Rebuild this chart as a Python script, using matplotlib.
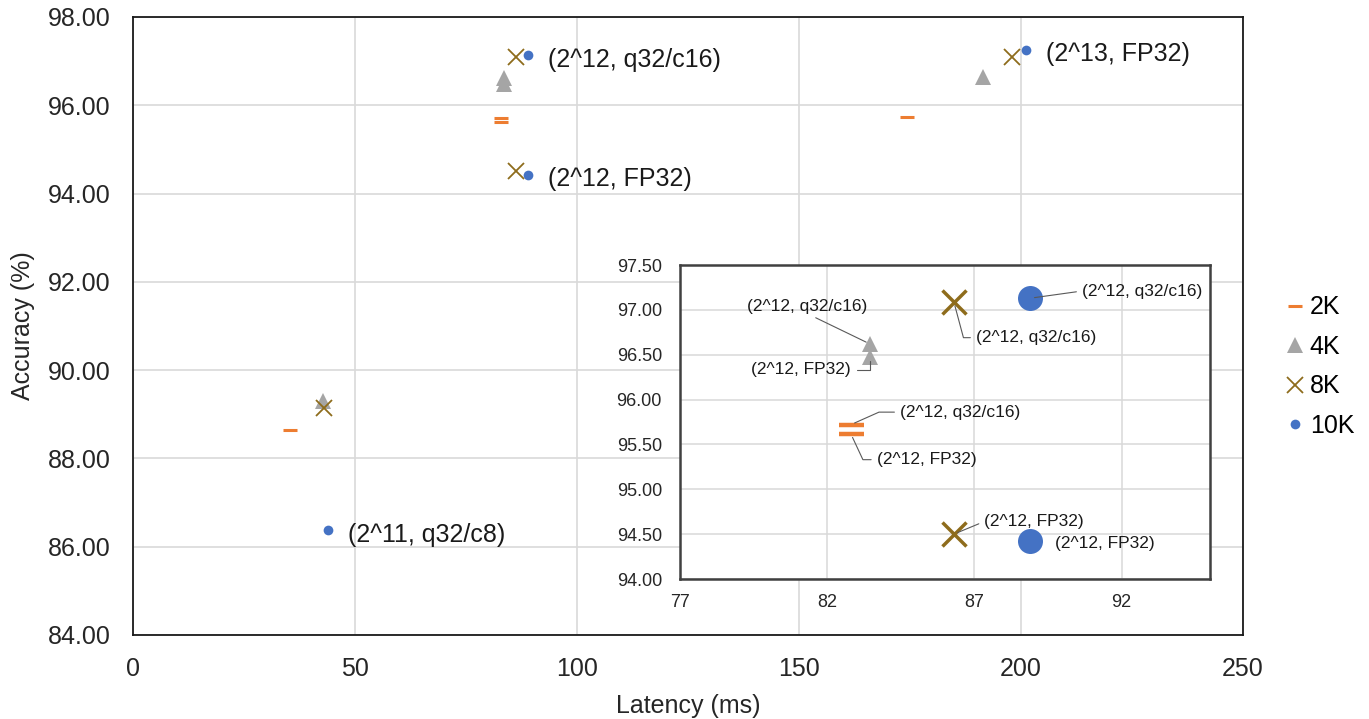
import numpy as np
import matplotlib.pyplot as plt

plt.rcParams['font.family'] = ['Liberation Sans', 'DejaVu Sans']

# latency (ms) / accuracy (%) per dictionary size
lat_2k = [35.3, 82.8, 82.8, 174.3]
acc_2k = [88.65, 95.72, 95.62, 95.73]
lat_4k = [42.8, 83.45, 83.45, 191.4]
acc_4k = [89.30, 96.62, 96.48, 96.63]
lat_8k = [43.0, 86.3, 86.3, 198.0]
acc_8k = [89.14, 97.09, 94.50, 97.09]
lat_10k = [43.9, 88.9, 88.9, 201.1]
acc_10k = [86.37, 97.13, 94.42, 97.25]

series_names = ['2K', '4K', '8K', '10K']

# data labels on the main chart (10K series)
main_labels = ['(2^11, q32/c8)', '(2^12, q32/c16)', '(2^12, FP32)', '(2^13, FP32)']
main_label_idx = [0, 1, 2, 3]

# data labels in the zoomed inset: (series, point index, text, text x, text y)
inset_labels = [
    ('10K', 1, '(2^12, q32/c16)', 90.65, 97.21),
    ('10K', 2, '(2^12, FP32)', 89.75, 94.40),
    ('8K', 1, '(2^12, q32/c16)', 87.05, 96.69),
    ('8K', 2, '(2^12, FP32)', 87.33, 94.64),
    ('4K', 1, '(2^12, q32/c16)', 81.33, 97.04),
    ('4K', 2, '(2^12, FP32)', 82.81, 96.33),
    ('2K', 1, '(2^12, q32/c16)', 84.47, 95.86),
    ('2K', 2, '(2^12, FP32)', 83.68, 95.33),
]

data = {
    '2K': (lat_2k, acc_2k),
    '4K': (lat_4k, acc_4k),
    '8K': (lat_8k, acc_8k),
    '10K': (lat_10k, acc_10k),
}

orange = '#ED7D31'
grey = '#A5A5A5'
gold = '#8E6C1C'
blue = '#4472C4'

style_main = {
    '2K': dict(marker='_', ms=10, mew=2.2, color=orange),
    '4K': dict(marker='^', ms=11, mew=0, color=grey),
    '8K': dict(marker='x', ms=12, mew=1.3, color=gold),
    '10K': dict(marker='o', ms=7, mew=0, color=blue),
}
style_inset = {
    '2K': dict(marker='_', ms=18, mew=3.2, color=orange),
    '4K': dict(marker='^', ms=11, mew=0, color=grey),
    '8K': dict(marker='x', ms=17, mew=2.5, color=gold),
    '10K': dict(marker='o', ms=18, mew=0, color=blue),
}

fig = plt.figure(figsize=(13.69, 7.19), dpi=100)
ax = fig.add_axes([0.09715, 0.11683, 0.81081, 0.85953])

handles = []
for name in series_names:
    x, y = data[name]
    h, = ax.plot(x, y, linestyle='none', label=name, **style_main[name])
    handles.append(h)

ax.set_xlim(0, 250)
ax.set_ylim(84, 98)
ax.set_xticks(np.arange(0, 251, 50))
ax.set_yticks(np.arange(84, 98.1, 2))
ax.yaxis.set_major_formatter(plt.FormatStrFormatter('%.2f'))
ax.tick_params(length=0, labelsize=18, labelcolor='#262626', pad=16)
ax.grid(True, color='#D9D9D9', lw=1.2)
ax.set_axisbelow(True)
for s in ax.spines.values():
    s.set_color('#1a1a1a')
    s.set_linewidth(1.3)
ax.set_xlabel('Latency (ms)', fontsize=18, color='#262626', labelpad=9)
ax.set_ylabel('Accuracy (%)', fontsize=18, color='#262626', labelpad=9)

for i, txt in zip(main_label_idx, main_labels):
    ax.annotate(txt, (lat_10k[i], acc_10k[i]), xytext=(14.5, -3),
                textcoords='offset points', va='center', ha='left',
                fontsize=18, color='#1a1a1a')

fig.legend(handles=handles, labels=series_names, loc='center left',
           bbox_to_anchor=(0.9375, 0.49), frameon=False, fontsize=18,
           handlelength=0.9, handletextpad=0.15, labelspacing=0.62,
           borderpad=0, borderaxespad=0)

# zoomed inset
axin = fig.add_axes([0.49671, 0.19471, 0.38714, 0.43672])
axin.set_facecolor('white')
for name in series_names:
    x, y = data[name]
    axin.plot(x, y, linestyle='none', **style_inset[name])
axin.set_xlim(77, 95)
axin.set_ylim(94, 97.5)
axin.set_xticks([77, 82, 87, 92])
axin.set_yticks(np.arange(94, 97.51, 0.5))
axin.yaxis.set_major_formatter(plt.FormatStrFormatter('%.2f'))
axin.tick_params(length=0, labelsize=13, labelcolor='#262626')
axin.tick_params(axis='y', pad=13)
axin.tick_params(axis='x', pad=11)
axin.grid(True, color='#D9D9D9', lw=1.1)
axin.set_axisbelow(True)
for s in axin.spines.values():
    s.set_color('#404040')
    s.set_linewidth(1.8)

lead = dict(arrowstyle='-', color='#595959', lw=0.8, shrinkA=2, shrinkB=3)
conn = {
    ('10K', 1): dict(ha='left', relpos=(0, 0.5), cs='arc3'),
    ('10K', 2): None,
    ('8K', 1): dict(ha='left', relpos=(0, 0.5), cs='angle,angleA=0,angleB=105,rad=0'),
    ('8K', 2): dict(ha='left', relpos=(0, 0.5), cs='arc3'),
    ('4K', 1): dict(ha='center', relpos=(0.5, 0), cs='arc3'),
    ('4K', 2): dict(ha='right', relpos=(1, 0.5), cs='angle,angleA=0,angleB=90,rad=0'),
    ('2K', 1): dict(ha='left', relpos=(0, 0.5), cs='angle,angleA=0,angleB=24,rad=0'),
    ('2K', 2): dict(ha='left', relpos=(0, 0.5), cs='angle,angleA=0,angleB=115,rad=0'),
}
for name, i, txt, tx, ty in inset_labels:
    x, y = data[name]
    c = conn[(name, i)]
    if c is None:
        axin.text(tx, ty, txt, ha='left', va='center', fontsize=12.5, color='#1a1a1a')
        continue
    axin.annotate(txt, (x[i], y[i]), xytext=(tx, ty), ha=c['ha'], va='center',
                  fontsize=12.5, color='#1a1a1a',
                  arrowprops=dict(lead, relpos=c['relpos'], connectionstyle=c['cs']))

fig.savefig('out.png', dpi=100)
